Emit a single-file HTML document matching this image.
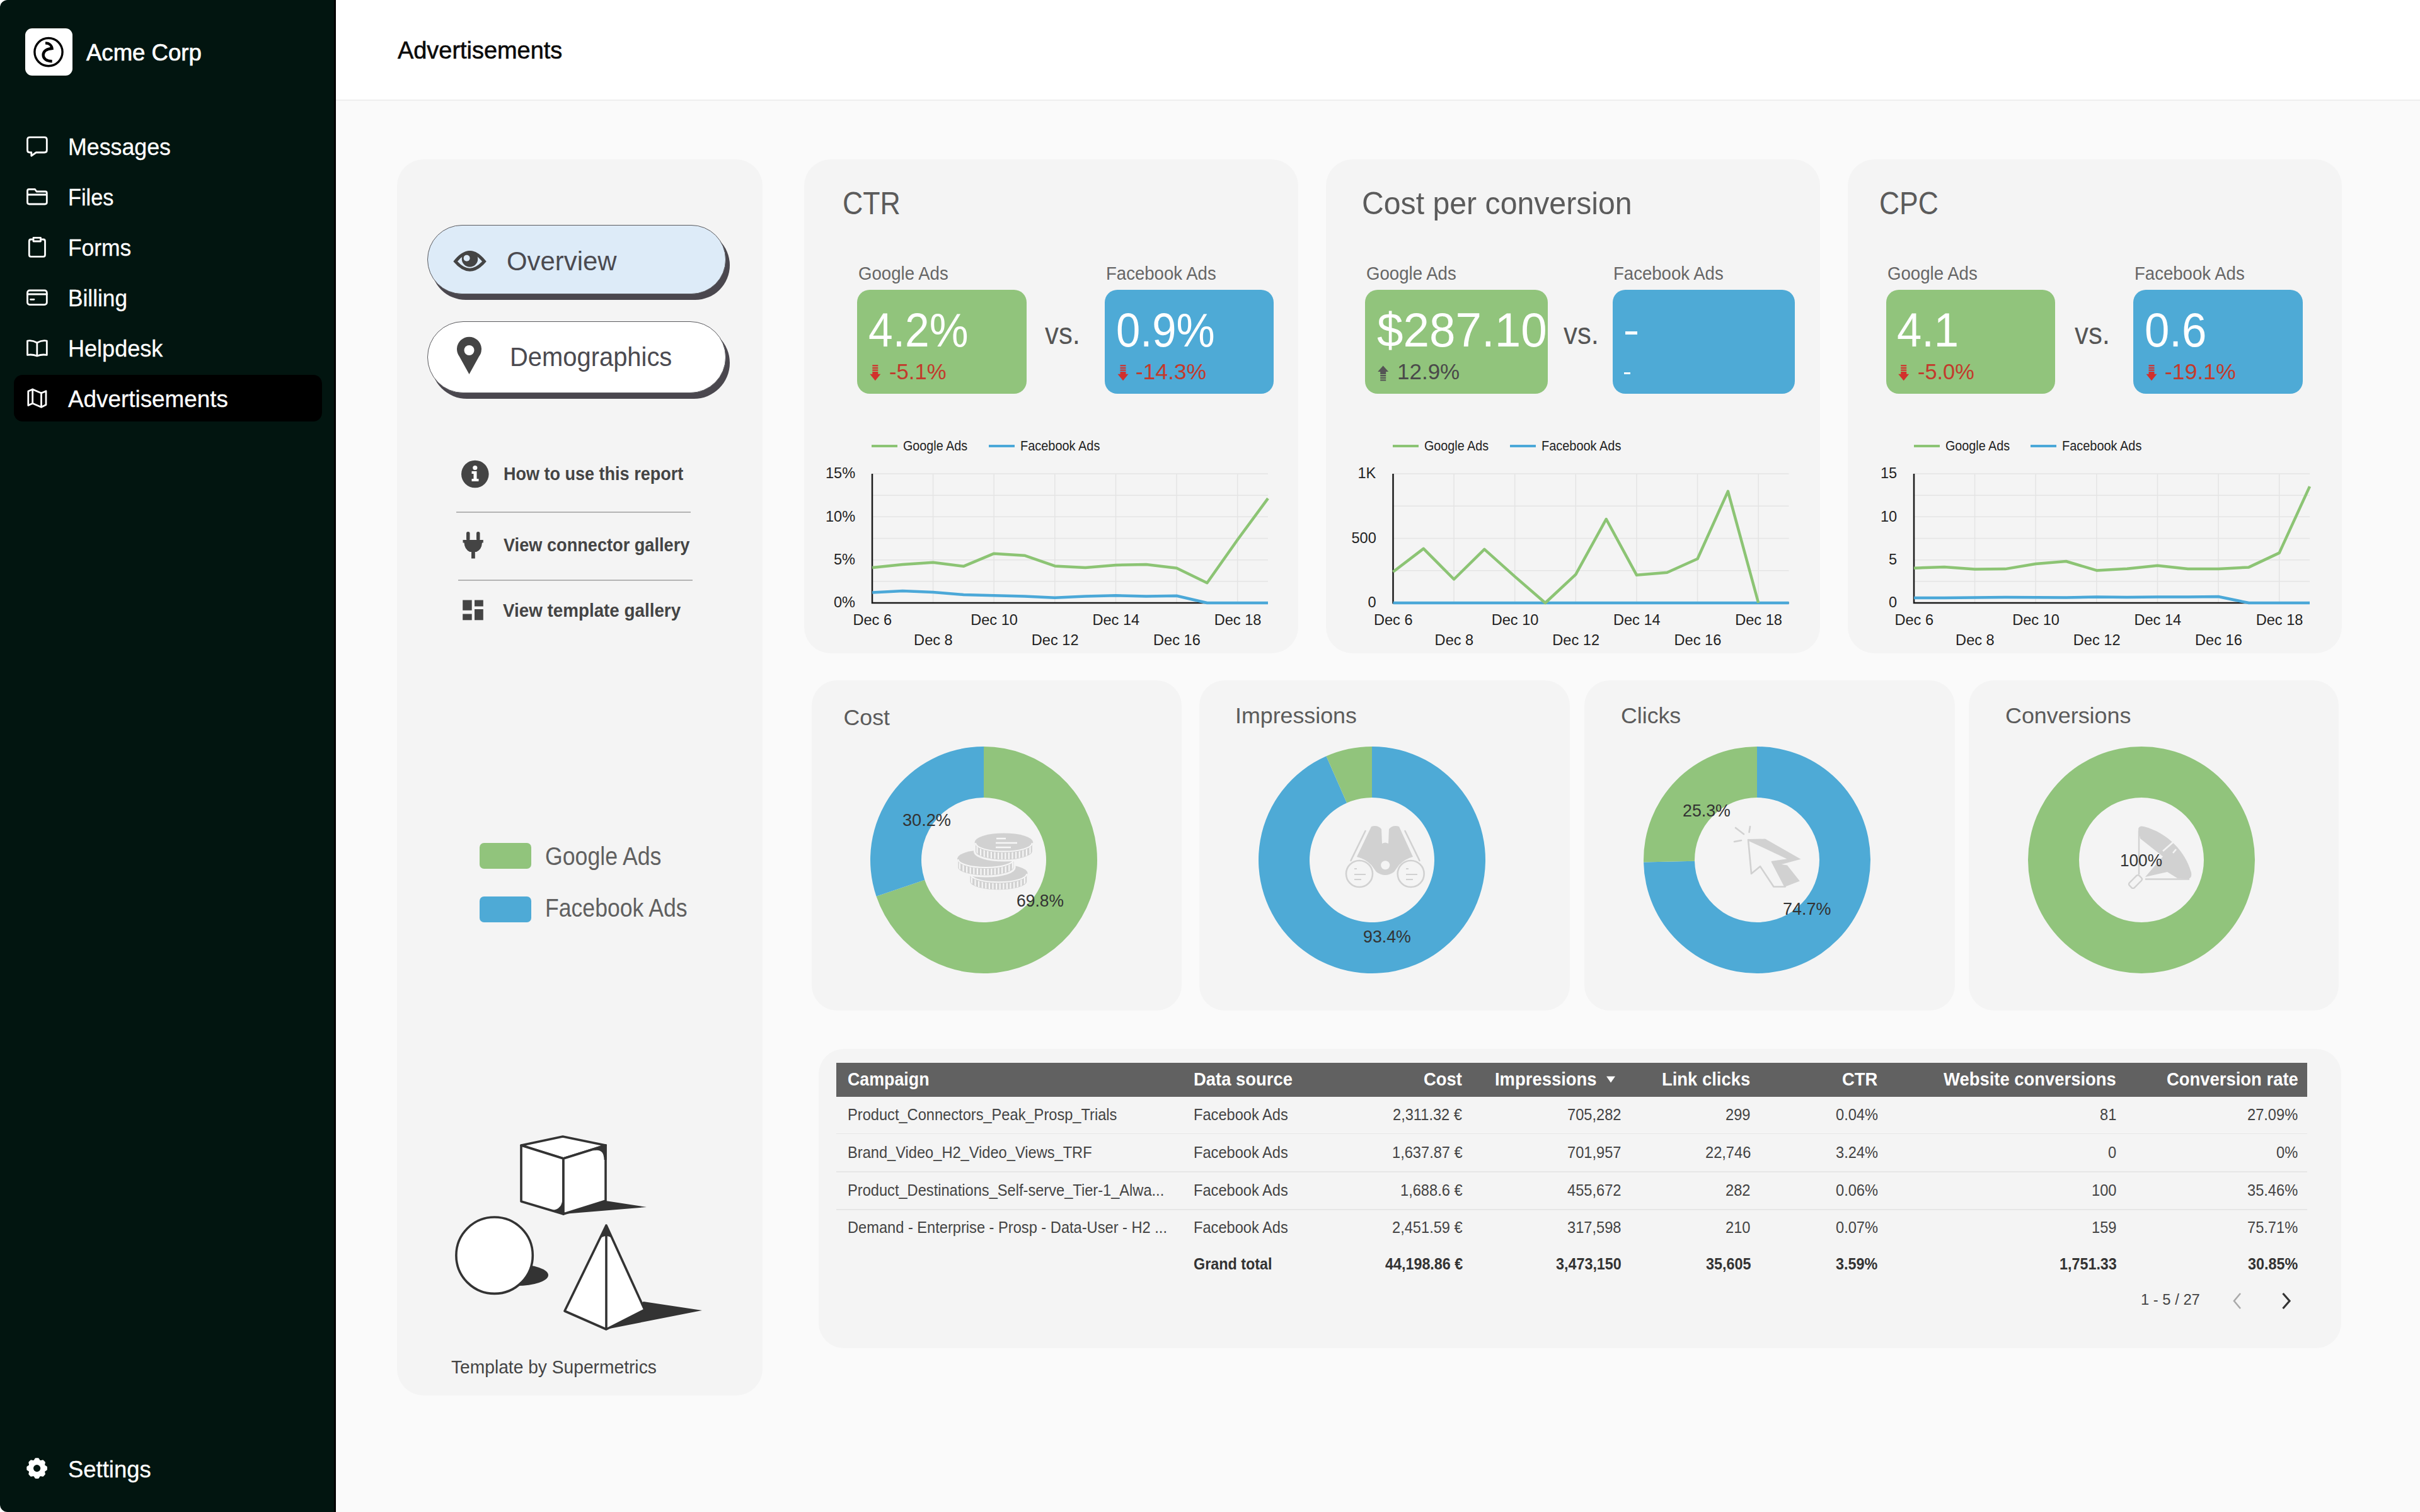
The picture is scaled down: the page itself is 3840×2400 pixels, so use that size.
<!DOCTYPE html>
<html><head><meta charset="utf-8"><title>Advertisements</title>
<style>
html,body{margin:0;padding:0;}
body{width:3840px;height:2400px;overflow:hidden;position:relative;background:#fafafa;font-family:"Liberation Sans",sans-serif;}
.t{position:absolute;white-space:nowrap;line-height:1;transform-origin:0 0;}
.r{position:absolute;}
svg.r{overflow:visible;}
</style></head><body>
<div class="r" style="left:0px;top:0px;width:533px;height:2400px;background:#fff;"></div>
<div class="r" style="left:533px;top:160px;width:3307px;height:2240px;background:#fafafa;"></div>
<div class="r" style="left:0px;top:0px;width:533px;height:2400px;background:#021510;border-radius:12px 0 0 12px;"></div>
<div class="r" style="left:530px;top:0px;width:3px;height:2400px;background:#000;"></div>
<div class="r" style="left:40px;top:45px;width:75px;height:75px;background:#fff;border-radius:11px;"></div>
<svg class="r" style="left:40px;top:45px" width="75" height="75" viewBox="0 0 75 75">
<circle cx="37" cy="37.6" r="22.1" fill="none" stroke="#000" stroke-width="3.4"/>
<path d="M32,23.4 C38.5,23.4 42.7,27.5 42.7,34" fill="none" stroke="#000" stroke-width="4.4"/>
<path d="M42.7,32 C34,32.3 28.6,36.5 28.6,42.3 C28.6,48.3 34,52.3 42.7,52.3" fill="none" stroke="#000" stroke-width="4.4"/>
</svg>
<div class="t" style="left:137.00px;top:65.06px;font-size:37.14px;color:#fff;transform:scaleX(0.9839);-webkit-text-stroke:0.7px #fff;">Acme Corp</div>
<div class="r" style="left:22px;top:595px;width:489px;height:74px;background:#000;border-radius:14px;"></div>
<div class="t" style="left:108.00px;top:214.56px;font-size:37.14px;color:#fff;transform:scaleX(0.9629);-webkit-text-stroke:0.3px #fff;">Messages</div>
<div class="t" style="left:108.00px;top:294.56px;font-size:37.14px;color:#fff;transform:scaleX(0.9241);-webkit-text-stroke:0.3px #fff;">Files</div>
<div class="t" style="left:108.00px;top:374.56px;font-size:37.14px;color:#fff;transform:scaleX(0.9528);-webkit-text-stroke:0.3px #fff;">Forms</div>
<div class="t" style="left:108.00px;top:454.56px;font-size:37.14px;color:#fff;transform:scaleX(0.9495);-webkit-text-stroke:0.3px #fff;">Billing</div>
<div class="t" style="left:108.00px;top:534.56px;font-size:37.14px;color:#fff;transform:scaleX(0.9712);-webkit-text-stroke:0.3px #fff;">Helpdesk</div>
<div class="t" style="left:108.00px;top:614.56px;font-size:37.14px;color:#fff;transform:scaleX(0.9922);-webkit-text-stroke:0.3px #fff;">Advertisements</div>
<div class="t" style="left:108.00px;top:2313.56px;font-size:37.14px;color:#fff;transform:scaleX(0.9815);-webkit-text-stroke:0.3px #fff;">Settings</div>
<svg class="r" style="left:0;top:0" width="100" height="700" viewBox="0 0 100 700">
<path d="M47.5,217.8 H70.5 Q74.3,217.8 74.3,221.6 V238.2 Q74.3,242 70.5,242 H57.3 L49.8,247.3 V242 H47.3 Q43.5,242 43.5,238.2 V221.6 Q43.5,217.8 47.5,217.8 Z" fill="none" stroke="#fff" stroke-width="2.8" stroke-linejoin="round" stroke-linecap="round"/>
<path d="M43.5,321 V303 Q43.5,300.5 46,300.5 H55.5 L58,304 H72 Q74.3,304 74.3,306.5 V321 Q74.3,324 71.3,324 H46.5 Q43.5,324 43.5,321 Z M43.5,309 H74.3" fill="none" stroke="#fff" stroke-width="2.8" stroke-linejoin="round" stroke-linecap="round"/>
<path d="M52.5,380 H49 Q46.3,380 46.3,383 V404.5 Q46.3,407.3 49,407.3 H68.8 Q71.5,407.3 71.5,404.5 V383 Q71.5,380 68.8,380 H65 M53,377.3 H64.5 V383 H53 Z" fill="none" stroke="#fff" stroke-width="2.8" stroke-linejoin="round" stroke-linecap="round"/>
<rect x="43.5" y="461" width="30.8" height="22.6" rx="3.5" fill="none" stroke="#fff" stroke-width="2.8" stroke-linejoin="round" stroke-linecap="round"/>
<path d="M43.5,467 H74.3 M48.5,475.3 H54" fill="none" stroke="#fff" stroke-width="2.8" stroke-linejoin="round" stroke-linecap="round"/>
<path d="M58.8,544 Q51,539.5 43.5,541 V563.5 Q51,562 58.8,565 Q66.5,562 74.3,563.5 V541 Q66.5,539.5 58.8,544 Z M58.8,544 V565" fill="none" stroke="#fff" stroke-width="2.8" stroke-linejoin="round" stroke-linecap="round"/>
<path d="M44.8,621 L51.7,618 L65.5,624 L73,620.8 V642.5 L65.5,646.3 L51.7,640.3 L44.8,643.5 Z M51.7,618 V640.3 M65.5,624 V646.3" fill="none" stroke="#fff" stroke-width="2.8" stroke-linejoin="round" stroke-linecap="round"/>
</svg>
<svg class="r" style="left:0;top:2280px" width="100" height="100" viewBox="0 2280 100 100">
<path d="M54.83,2319.00 L56.80,2315.91 L60.40,2315.91 L62.37,2319.00 L64.14,2319.73 L67.71,2318.94 L70.26,2321.49 L69.47,2325.06 L70.20,2326.83 L73.29,2328.80 L73.29,2332.40 L70.20,2334.37 L69.47,2336.14 L70.26,2339.71 L67.71,2342.26 L64.14,2341.47 L62.37,2342.20 L60.40,2345.29 L56.80,2345.29 L54.83,2342.20 L53.06,2341.47 L49.49,2342.26 L46.94,2339.71 L47.73,2336.14 L47.00,2334.37 L43.91,2332.40 L43.91,2328.80 L47.00,2326.83 L47.73,2325.06 L46.94,2321.49 L49.49,2318.94 L53.06,2319.73 Z" fill="#fff" stroke="#fff" stroke-width="3.2" stroke-linejoin="round"/>
<circle cx="58.6" cy="2330.6" r="5.6" fill="#021510"/>
</svg>
<div class="r" style="left:533px;top:0px;width:3307px;height:158px;background:#fff;"></div>
<div class="r" style="left:533px;top:158px;width:3307px;height:2px;background:#efefef;"></div>
<div class="t" style="left:630.50px;top:61.35px;font-size:38.57px;color:#0a0a0a;transform:scaleX(0.9830);-webkit-text-stroke:0.6px #0a0a0a;">Advertisements</div>
<div class="r" style="left:630px;top:253px;width:580px;height:1962px;background:#f4f4f4;border-radius:42px;"></div>
<div class="r" style="left:678px;top:357px;width:474px;height:110px;background:#ddebf8;border-radius:56px;border:1.5px solid #5a5a5e;box-sizing:border-box;box-shadow:6px 9px 0 #4a474e;"></div>
<div class="r" style="left:678px;top:510px;width:474px;height:114px;background:#ffffff;border-radius:57px;border:1.5px solid #5a5a5e;box-sizing:border-box;box-shadow:6px 9px 0 #4a474e;"></div>
<svg class="r" style="left:700px;top:380px" width="100" height="240" viewBox="700 380 100 240">
<path d="M719.3,415 Q745.5,381 771.8,415 Q745.5,446.4 719.3,415 Z M726,415 Q745.5,391 765,415 Q745.5,436.4 726,415 Z" fill="#444" fill-rule="evenodd"/>
<circle cx="745.5" cy="411" r="12.7" fill="#444"/>
<circle cx="740.6" cy="409.8" r="5" fill="#ddebf8"/>
<path d="M744.5,594 L729,566 A19.5,19.5 0 1 1 760,566 Z" fill="#444"/>
<circle cx="744.5" cy="556" r="8" fill="#fff"/>
</svg>
<div class="t" style="left:804.00px;top:392.72px;font-size:42.86px;color:#4b4a50;transform:scaleX(0.9777);">Overview</div>
<div class="t" style="left:809.00px;top:544.72px;font-size:42.86px;color:#4b4a50;transform:scaleX(0.9312);">Demographics</div>
<svg class="r" style="left:720px;top:720px" width="60" height="280" viewBox="720 720 60 280">
<circle cx="753.8" cy="752.5" r="21.8" fill="#444"/>
<circle cx="753.8" cy="742.5" r="3.6" fill="#fff"/>
<path d="M748.5,748 H756.5 V760 H759.5 V764 H748.5 V760 H751.5 V752 H748.5 Z" fill="#fff"/>
<rect x="740" y="844" width="5.5" height="14" rx="2.5" fill="#444"/>
<rect x="756" y="844" width="5.5" height="14" rx="2.5" fill="#444"/>
<path d="M734.5,857 H766.8 V861.5 H765 Q764.5,872 756,876 H753.8 V886.5 H748 V876 H745.5 Q737,872 736.5,861.5 H734.5 Z" fill="#444"/>
<rect x="734.2" y="952.5" width="14.5" height="16.3" fill="#444"/>
<rect x="734.2" y="974.5" width="14.5" height="9.8" fill="#444"/>
<rect x="753" y="952.5" width="13.8" height="10" fill="#444"/>
<rect x="753" y="967" width="13.8" height="17.3" fill="#444"/>
</svg>
<div class="t" style="left:799.00px;top:736.61px;font-size:30.00px;color:#444;font-weight:700;transform:scaleX(0.9006);">How to use this report</div>
<div class="r" style="left:724px;top:812px;width:372px;height:2px;background:#b4b4b4;"></div>
<div class="t" style="left:799.00px;top:849.61px;font-size:30.00px;color:#444;font-weight:700;transform:scaleX(0.9052);">View connector gallery</div>
<div class="r" style="left:727px;top:920px;width:372px;height:2px;background:#b4b4b4;"></div>
<div class="t" style="left:798.00px;top:953.61px;font-size:30.00px;color:#444;font-weight:700;transform:scaleX(0.9262);">View template gallery</div>
<div class="r" style="left:761px;top:1338px;width:82px;height:41px;background:#91c47c;border-radius:7px;"></div>
<div class="r" style="left:761px;top:1423px;width:82px;height:41px;background:#4eaad6;border-radius:7px;"></div>
<div class="t" style="left:865.00px;top:1338.64px;font-size:40.00px;color:#606060;transform:scaleX(0.8913);">Google Ads</div>
<div class="t" style="left:865.00px;top:1421.14px;font-size:40.00px;color:#606060;transform:scaleX(0.8898);">Facebook Ads</div>
<svg class="r" style="left:700px;top:1780px" width="440" height="350" viewBox="700 1780 440 350">
<path d="M961,1906 L1026,1916 L894,1927 Z" fill="#333"/>
<path d="M827,1818 L893,1804 L961,1818 L894,1839 Z" fill="#fff" stroke="#333" stroke-width="3.6" stroke-linejoin="round"/>
<path d="M827,1818 L894,1839 L894,1927 L827,1907 Z" fill="#fff" stroke="#333" stroke-width="3.6" stroke-linejoin="round"/>
<path d="M894,1839 L961,1818 L961,1906 L894,1927 Z" fill="#fff" stroke="#333" stroke-width="3.6" stroke-linejoin="round"/>
<path d="M941,1826.5 Q958.5,1822 958.5,1841 L962.5,1841 L962.5,1816 Z" fill="#333"/>
<path d="M892.5,1900 Q893,1920.5 875,1920.8 L895,1929 Z" fill="#333"/>
<ellipse cx="820" cy="2024" rx="50" ry="17" fill="#333"/>
<circle cx="784.6" cy="1992.7" r="60.7" fill="#fff" stroke="#333" stroke-width="3.6"/>
<path d="M1021,2066 L1114,2080 L962,2110 Z" fill="#333"/>
<path d="M962,1945 L896,2081 L962,2110 L1023,2079 Z" fill="#fff" stroke="#333" stroke-width="3.6" stroke-linejoin="round"/>
<path d="M962,1962 V2110" stroke="#333" stroke-width="3.6"/>
<path d="M962,1945 L952,1966 Q962,1958 972,1966 Z" fill="#333"/>
</svg>
<div class="t" style="left:716.00px;top:2154.61px;font-size:30.00px;color:#444;transform:scaleX(0.9395);">Template by Supermetrics</div>
<div class="r" style="left:1276px;top:253px;width:784px;height:784px;background:#f4f4f4;border-radius:42px;"></div>
<div class="t" style="left:1337.00px;top:297.68px;font-size:50.00px;color:#5b5b5b;transform:scaleX(0.8932);">CTR</div>
<div class="t" style="left:1361.50px;top:418.61px;font-size:30.00px;color:#666;transform:scaleX(0.9200);">Google Ads</div>
<div class="t" style="left:1754.50px;top:418.61px;font-size:30.00px;color:#666;transform:scaleX(0.9189);">Facebook Ads</div>
<div class="r" style="left:1360px;top:460px;width:269px;height:165px;background:#91c47c;border-radius:20px;"></div>
<div class="r" style="left:1753px;top:460px;width:268px;height:165px;background:#4eaad6;border-radius:20px;"></div>
<div class="t" style="left:1378.00px;top:485.78px;font-size:76.57px;color:#fff;transform:scaleX(0.9080);">4.2%</div>
<div class="t" style="left:1771.30px;top:485.78px;font-size:76.57px;color:#fff;transform:scaleX(0.8983);">0.9%</div>
<div class="t" style="left:1658.00px;top:504.94px;font-size:48.50px;color:#555;transform:scaleX(0.9032);">vs.</div>
<div class="t" style="left:1410.60px;top:572.77px;font-size:35.71px;color:#c23a2c;transform:scaleX(0.9720);">-5.1%</div>
<div class="t" style="left:1802.00px;top:572.77px;font-size:35.71px;color:#c23a2c;transform:scaleX(0.9912);">-14.3%</div>
<svg class="r" style="left:0;top:0" width="3840" height="700" viewBox="0 0 3840 700"><path d="M1384.3,579.3 h9 v2.3 h-9 Z M1384.3,582.9 h9 v2.3 h-9 Z M1384.3,586.5 h9 v2.3 h-9 Z M1384.3,590.0999999999999 h9 v3.7 h4 L1388.8,604.3 L1380.3,593.8 h4 Z" fill="#d2302c"/><path d="M1777.5,579.3 h9 v2.3 h-9 Z M1777.5,582.9 h9 v2.3 h-9 Z M1777.5,586.5 h9 v2.3 h-9 Z M1777.5,590.0999999999999 h9 v3.7 h4 L1782,604.3 L1773.5,593.8 h4 Z" fill="#d2302c"/></svg>
<div class="r" style="left:1383px;top:705.5px;width:41px;height:4.0px;background:#8cc474;"></div>
<div class="t" style="left:1433.00px;top:695.65px;font-size:22.86px;color:#222;transform:scaleX(0.8644);">Google Ads</div>
<div class="r" style="left:1569px;top:705.5px;width:41px;height:4.0px;background:#4ba8d8;"></div>
<div class="t" style="left:1619.00px;top:695.65px;font-size:22.86px;color:#222;transform:scaleX(0.8722);">Facebook Ads</div>
<svg class="r" style="left:0;top:0" width="3840" height="1100" viewBox="0 0 3840 1100"><path d="M1384,922.8 H2012 M1384,888.7 H2012 M1384,854.5 H2012 M1384,820.3 H2012 M1384,786.2 H2012 M1384,752.0 H2012 M1384.0,752 V957 M1480.6,752 V957 M1577.2,752 V957 M1673.8,752 V957 M1770.5,752 V957 M1867.1,752 V957 M1963.7,752 V957" stroke="#e4e4e4" stroke-width="1.5" fill="none"/><path d="M1384,752 V957 H2012" stroke="#1a1a1a" stroke-width="2.5" fill="none"/><polyline points="1384.0,940.6 1432.3,937.9 1480.6,939.9 1528.9,943.9 1577.2,945.2 1625.5,946.6 1673.8,948.7 1722.2,946.6 1770.5,945.2 1818.8,946.6 1867.1,945.7 1915.4,957.0 1963.7,957.0 2012.0,957.0" fill="none" stroke="#4ba8d8" stroke-width="4.5" stroke-linejoin="round"/><polyline points="1384.0,901.1 1432.3,896.0 1480.6,892.8 1528.9,898.8 1577.2,878.7 1625.5,881.7 1673.8,898.4 1722.2,901.1 1770.5,897.0 1818.8,896.0 1867.1,901.8 1915.4,925.2 1963.7,856.8 2012.0,791.2" fill="none" stroke="#8cc474" stroke-width="4.5" stroke-linejoin="round"/></svg>
<div class="t" style="left:1310.00px;top:740.35px;font-size:23.57px;color:#222;">15%</div>
<div class="t" style="left:1310.00px;top:808.68px;font-size:23.57px;color:#222;">10%</div>
<div class="t" style="left:1323.00px;top:877.01px;font-size:23.57px;color:#222;">5%</div>
<div class="t" style="left:1323.00px;top:945.35px;font-size:23.57px;color:#222;">0%</div>
<div class="t" style="left:1353.50px;top:973.05px;font-size:23.57px;color:#222;">Dec 6</div>
<div class="t" style="left:1450.12px;top:1004.75px;font-size:23.57px;color:#222;">Dec 8</div>
<div class="t" style="left:1540.23px;top:973.05px;font-size:23.57px;color:#222;">Dec 10</div>
<div class="t" style="left:1636.85px;top:1004.75px;font-size:23.57px;color:#222;">Dec 12</div>
<div class="t" style="left:1733.46px;top:973.05px;font-size:23.57px;color:#222;">Dec 14</div>
<div class="t" style="left:1830.08px;top:1004.75px;font-size:23.57px;color:#222;">Dec 16</div>
<div class="t" style="left:1926.69px;top:973.05px;font-size:23.57px;color:#222;">Dec 18</div>
<div class="r" style="left:2104px;top:253px;width:784px;height:784px;background:#f4f4f4;border-radius:42px;"></div>
<div class="t" style="left:2161.00px;top:297.68px;font-size:50.00px;color:#5b5b5b;transform:scaleX(0.9640);">Cost per conversion</div>
<div class="t" style="left:2167.50px;top:418.61px;font-size:30.00px;color:#666;transform:scaleX(0.9200);">Google Ads</div>
<div class="t" style="left:2560.00px;top:418.61px;font-size:30.00px;color:#666;transform:scaleX(0.9189);">Facebook Ads</div>
<div class="r" style="left:2166px;top:460px;width:289.5px;height:165px;background:#91c47c;border-radius:20px;"></div>
<div class="r" style="left:2558.5px;top:460px;width:289.5px;height:165px;background:#4eaad6;border-radius:20px;"></div>
<div class="t" style="left:2185.00px;top:485.78px;font-size:76.57px;color:#fff;transform:scaleX(0.9747);">$287.10</div>
<div class="t" style="left:2481.00px;top:504.94px;font-size:48.50px;color:#555;transform:scaleX(0.9032);">vs.</div>
<div class="t" style="left:2217.00px;top:572.77px;font-size:35.71px;color:#4a4a4a;transform:scaleX(0.9802);">12.9%</div>
<svg class="r" style="left:0;top:0" width="3840" height="700" viewBox="0 0 3840 700"><path d="M2194.7,580.5 L2203.2,590.0 h-4 v4 h-9 v-4 h-4 Z M2190.2,595.1 h9 v2.3 h-9 Z M2190.2,598.7 h9 v2.3 h-9 Z M2190.2,602.3 h9 v2.3 h-9 Z" fill="#555"/></svg>
<div class="r" style="left:2210px;top:705.5px;width:41px;height:4.0px;background:#8cc474;"></div>
<div class="t" style="left:2260.00px;top:695.65px;font-size:22.86px;color:#222;transform:scaleX(0.8644);">Google Ads</div>
<div class="r" style="left:2395.5px;top:705.5px;width:41.0px;height:4.0px;background:#4ba8d8;"></div>
<div class="t" style="left:2445.50px;top:695.65px;font-size:22.86px;color:#222;transform:scaleX(0.8722);">Facebook Ads</div>
<svg class="r" style="left:0;top:0" width="3840" height="1100" viewBox="0 0 3840 1100"><path d="M2210.5,905.8 H2838.5 M2210.5,854.5 H2838.5 M2210.5,803.2 H2838.5 M2210.5,752.0 H2838.5 M2210.5,752 V957 M2307.1,752 V957 M2403.7,752 V957 M2500.3,752 V957 M2597.0,752 V957 M2693.6,752 V957 M2790.2,752 V957" stroke="#e4e4e4" stroke-width="1.5" fill="none"/><path d="M2210.5,752 V957 H2838.5" stroke="#1a1a1a" stroke-width="2.5" fill="none"/><polyline points="2210.5,957.0 2258.8,957.0 2307.1,957.0 2355.4,957.0 2403.7,957.0 2452.0,957.0 2500.3,957.0 2548.7,957.0 2597.0,957.0 2645.3,957.0 2693.6,957.0 2741.9,957.0 2790.2,957.0 2838.5,957.0" fill="none" stroke="#4ba8d8" stroke-width="4.5" stroke-linejoin="round"/><polyline points="2210.5,907.8 2258.8,870.9 2307.1,919.5 2355.4,871.9 2403.7,915.1 2452.0,957.0 2500.3,911.8 2548.7,824.0 2597.0,912.8 2645.3,908.8 2693.6,887.0 2741.9,779.8 2790.2,957.0" fill="none" stroke="#8cc474" stroke-width="4.5" stroke-linejoin="round"/></svg>
<div class="t" style="left:2154.50px;top:740.35px;font-size:23.57px;color:#222;">1K</div>
<div class="t" style="left:2144.50px;top:842.85px;font-size:23.57px;color:#222;">500</div>
<div class="t" style="left:2170.50px;top:945.35px;font-size:23.57px;color:#222;">0</div>
<div class="t" style="left:2180.00px;top:973.05px;font-size:23.57px;color:#222;">Dec 6</div>
<div class="t" style="left:2276.62px;top:1004.75px;font-size:23.57px;color:#222;">Dec 8</div>
<div class="t" style="left:2366.73px;top:973.05px;font-size:23.57px;color:#222;">Dec 10</div>
<div class="t" style="left:2463.35px;top:1004.75px;font-size:23.57px;color:#222;">Dec 12</div>
<div class="t" style="left:2559.96px;top:973.05px;font-size:23.57px;color:#222;">Dec 14</div>
<div class="t" style="left:2656.58px;top:1004.75px;font-size:23.57px;color:#222;">Dec 16</div>
<div class="t" style="left:2753.19px;top:973.05px;font-size:23.57px;color:#222;">Dec 18</div>
<div class="r" style="left:2932px;top:253px;width:784px;height:784px;background:#f4f4f4;border-radius:42px;"></div>
<div class="t" style="left:2982.00px;top:297.68px;font-size:50.00px;color:#5b5b5b;transform:scaleX(0.8896);">CPC</div>
<div class="t" style="left:2994.50px;top:418.61px;font-size:30.00px;color:#666;transform:scaleX(0.9200);">Google Ads</div>
<div class="t" style="left:3386.50px;top:418.61px;font-size:30.00px;color:#666;transform:scaleX(0.9189);">Facebook Ads</div>
<div class="r" style="left:2993px;top:460px;width:268.4000000000001px;height:165px;background:#91c47c;border-radius:20px;"></div>
<div class="r" style="left:3385px;top:460px;width:268.5999999999999px;height:165px;background:#4eaad6;border-radius:20px;"></div>
<div class="t" style="left:3010.40px;top:485.78px;font-size:76.57px;color:#fff;transform:scaleX(0.9217);">4.1</div>
<div class="t" style="left:3402.60px;top:485.78px;font-size:76.57px;color:#fff;transform:scaleX(0.9245);">0.6</div>
<div class="t" style="left:3291.50px;top:504.94px;font-size:48.50px;color:#555;transform:scaleX(0.9032);">vs.</div>
<div class="t" style="left:3043.20px;top:572.77px;font-size:35.71px;color:#c23a2c;transform:scaleX(0.9613);">-5.0%</div>
<div class="t" style="left:3434.80px;top:572.77px;font-size:35.71px;color:#c23a2c;transform:scaleX(0.9973);">-19.1%</div>
<svg class="r" style="left:0;top:0" width="3840" height="700" viewBox="0 0 3840 700"><path d="M3016.2,579.3 h9 v2.3 h-9 Z M3016.2,582.9 h9 v2.3 h-9 Z M3016.2,586.5 h9 v2.3 h-9 Z M3016.2,590.0999999999999 h9 v3.7 h4 L3020.7,604.3 L3012.2,593.8 h4 Z" fill="#d2302c"/><path d="M3409.5,579.3 h9 v2.3 h-9 Z M3409.5,582.9 h9 v2.3 h-9 Z M3409.5,586.5 h9 v2.3 h-9 Z M3409.5,590.0999999999999 h9 v3.7 h4 L3414,604.3 L3405.5,593.8 h4 Z" fill="#d2302c"/></svg>
<div class="r" style="left:3036.5px;top:705.5px;width:41.0px;height:4.0px;background:#8cc474;"></div>
<div class="t" style="left:3086.50px;top:695.65px;font-size:22.86px;color:#222;transform:scaleX(0.8644);">Google Ads</div>
<div class="r" style="left:3222px;top:705.5px;width:41px;height:4.0px;background:#4ba8d8;"></div>
<div class="t" style="left:3272.00px;top:695.65px;font-size:22.86px;color:#222;transform:scaleX(0.8722);">Facebook Ads</div>
<svg class="r" style="left:0;top:0" width="3840" height="1100" viewBox="0 0 3840 1100"><path d="M3037,922.8 H3665 M3037,888.7 H3665 M3037,854.5 H3665 M3037,820.3 H3665 M3037,786.2 H3665 M3037,752.0 H3665 M3037.0,752 V957 M3133.6,752 V957 M3230.2,752 V957 M3326.8,752 V957 M3423.5,752 V957 M3520.1,752 V957 M3616.7,752 V957" stroke="#e4e4e4" stroke-width="1.5" fill="none"/><path d="M3037,752 V957 H3665" stroke="#1a1a1a" stroke-width="2.5" fill="none"/><polyline points="3037.0,949.0 3085.3,949.0 3133.6,948.6 3181.9,948.0 3230.2,948.3 3278.5,948.6 3326.8,947.6 3375.2,948.0 3423.5,947.6 3471.8,947.6 3520.1,947.0 3568.4,957.0 3616.7,957.0 3665.0,957.0" fill="none" stroke="#4ba8d8" stroke-width="4.5" stroke-linejoin="round"/><polyline points="3037.0,901.7 3085.3,900.1 3133.6,903.4 3181.9,903.1 3230.2,895.0 3278.5,891.0 3326.8,905.4 3375.2,902.7 3423.5,897.7 3471.8,903.1 3520.1,903.1 3568.4,900.4 3616.7,877.6 3665.0,772.1" fill="none" stroke="#8cc474" stroke-width="4.5" stroke-linejoin="round"/></svg>
<div class="t" style="left:2984.00px;top:740.35px;font-size:23.57px;color:#222;">15</div>
<div class="t" style="left:2984.00px;top:808.68px;font-size:23.57px;color:#222;">10</div>
<div class="t" style="left:2997.00px;top:877.01px;font-size:23.57px;color:#222;">5</div>
<div class="t" style="left:2997.00px;top:945.35px;font-size:23.57px;color:#222;">0</div>
<div class="t" style="left:3006.50px;top:973.05px;font-size:23.57px;color:#222;">Dec 6</div>
<div class="t" style="left:3103.12px;top:1004.75px;font-size:23.57px;color:#222;">Dec 8</div>
<div class="t" style="left:3193.23px;top:973.05px;font-size:23.57px;color:#222;">Dec 10</div>
<div class="t" style="left:3289.85px;top:1004.75px;font-size:23.57px;color:#222;">Dec 12</div>
<div class="t" style="left:3386.46px;top:973.05px;font-size:23.57px;color:#222;">Dec 14</div>
<div class="t" style="left:3483.08px;top:1004.75px;font-size:23.57px;color:#222;">Dec 16</div>
<div class="t" style="left:3579.69px;top:973.05px;font-size:23.57px;color:#222;">Dec 18</div>
<div class="r" style="left:2579px;top:526px;width:19px;height:5px;background:#fff;"></div>
<div class="r" style="left:2577px;top:591px;width:10px;height:3px;background:#fff;"></div>
<div class="r" style="left:1288px;top:1080px;width:586.5px;height:524px;background:#f4f4f4;border-radius:40px;"></div>
<div class="r" style="left:1903px;top:1080px;width:588px;height:524px;background:#f4f4f4;border-radius:40px;"></div>
<div class="r" style="left:2513.6px;top:1080px;width:588.2000000000003px;height:524px;background:#f4f4f4;border-radius:40px;"></div>
<div class="r" style="left:3123.6px;top:1080px;width:587.4000000000001px;height:524px;background:#f4f4f4;border-radius:40px;"></div>
<div class="t" style="left:1338.50px;top:1121.57px;font-size:35.71px;color:#5b5b5b;">Cost</div>
<div class="t" style="left:1959.60px;top:1119.37px;font-size:35.71px;color:#5b5b5b;transform:scaleX(1.0021);">Impressions</div>
<div class="t" style="left:2572.00px;top:1119.37px;font-size:35.71px;color:#5b5b5b;">Clicks</div>
<div class="t" style="left:3182.00px;top:1119.37px;font-size:35.71px;color:#5b5b5b;transform:scaleX(1.0050);">Conversions</div>
<svg class="r" style="left:1361px;top:1164.6px" width="400" height="400" viewBox="1361 1164.6 400 400"><path d="M1561.00,1184.60 A180,180 0 1 1 1390.52,1422.37 L1467.24,1396.37 A99,99 0 1 0 1561.00,1265.60 Z" fill="#91c47c"/><path d="M1390.52,1422.37 A180,180 0 0 1 1561.00,1184.60 L1561.00,1265.60 A99,99 0 0 0 1467.24,1396.37 Z" fill="#4eaad6"/></svg>
<svg class="r" style="left:1976.6999999999998px;top:1164.6px" width="400" height="400" viewBox="1976.6999999999998 1164.6 400 400"><path d="M2176.70,1184.60 A180,180 0 1 1 2104.18,1199.86 L2136.81,1273.99 A99,99 0 1 0 2176.70,1265.60 Z" fill="#4eaad6"/><path d="M2104.18,1199.86 A180,180 0 0 1 2176.70,1184.60 L2176.70,1265.60 A99,99 0 0 0 2136.81,1273.99 Z" fill="#91c47c"/></svg>
<svg class="r" style="left:2588px;top:1164.6px" width="400" height="400" viewBox="2588 1164.6 400 400"><path d="M2788.00,1184.60 A180,180 0 1 1 2608.03,1367.99 L2689.02,1366.47 A99,99 0 1 0 2788.00,1265.60 Z" fill="#4eaad6"/><path d="M2608.03,1367.99 A180,180 0 0 1 2788.00,1184.60 L2788.00,1265.60 A99,99 0 0 0 2689.02,1366.47 Z" fill="#91c47c"/></svg>
<svg class="r" style="left:3198px;top:1164.6px" width="400" height="400" viewBox="3198 1164.6 400 400"><path d="M3398,1184.6 A180,180 0 1 1 3398,1544.6 A180,180 0 1 1 3398,1184.6 Z M3398,1265.6 A99,99 0 1 0 3398,1463.6 A99,99 0 1 0 3398,1265.6 Z" fill="#91c47c" fill-rule="evenodd"/></svg>
<svg class="r" style="left:1480px;top:1280px" width="2040" height="160" viewBox="1480 1280 2040 160"><path d="M1537.8999999999999,1386 L1537.8999999999999,1399.5 A46.4,14.3 0 0 0 1630.7,1399.5 L1630.7,1386 A46.4,14.3 0 0 0 1537.8999999999999,1386 Z" fill="#d1d1d1" stroke="#f4f4f4" stroke-width="3"/><clipPath id="cp1"><path d="M1539.8999999999999,1389 A44.4,13.3 0 0 0 1628.7,1389 L1628.7,1398.5 A44.4,13.3 0 0 1 1539.8999999999999,1398.5 Z"/></clipPath><path d="M1541.9,1386 V1413.8 M1547.5,1386 V1413.8 M1553.1,1386 V1413.8 M1558.7,1386 V1413.8 M1564.3,1386 V1413.8 M1569.9,1386 V1413.8 M1575.5,1386 V1413.8 M1581.1,1386 V1413.8 M1586.7,1386 V1413.8 M1592.3,1386 V1413.8 M1597.9,1386 V1413.8 M1603.5,1386 V1413.8 M1609.1,1386 V1413.8 M1614.7,1386 V1413.8 M1620.3,1386 V1413.8 M1625.9,1386 V1413.8" stroke="#f7f7f7" stroke-width="2.2" clip-path="url(#cp1)"/><ellipse cx="1584.3" cy="1386" rx="46.4" ry="14.3" fill="#d1d1d1"/><path d="M1539.3999999999999,1387 A44.9,13.3 0 0 0 1629.2,1387" stroke="#f7f7f7" stroke-width="2" fill="none"/><path d="M1518.9,1363 L1518.9,1377 A45.6,14 0 0 0 1610.1,1377 L1610.1,1363 A45.6,14 0 0 0 1518.9,1363 Z" fill="#d1d1d1" stroke="#f4f4f4" stroke-width="3"/><clipPath id="cp2"><path d="M1520.9,1366 A43.6,13 0 0 0 1608.1,1366 L1608.1,1376 A43.6,13 0 0 1 1520.9,1376 Z"/></clipPath><path d="M1522.9,1363 V1391 M1528.5,1363 V1391 M1534.1,1363 V1391 M1539.7,1363 V1391 M1545.3,1363 V1391 M1550.9,1363 V1391 M1556.5,1363 V1391 M1562.1,1363 V1391 M1567.7,1363 V1391 M1573.3,1363 V1391 M1578.9,1363 V1391 M1584.5,1363 V1391 M1590.1,1363 V1391 M1595.7,1363 V1391 M1601.3,1363 V1391 M1606.9,1363 V1391" stroke="#f7f7f7" stroke-width="2.2" clip-path="url(#cp2)"/><ellipse cx="1564.5" cy="1363" rx="45.6" ry="14" fill="#d1d1d1"/><path d="M1520.4,1364 A44.1,13 0 0 0 1608.6,1364" stroke="#f7f7f7" stroke-width="2" fill="none"/><path d="M1546.5,1337 L1546.5,1351.5 A46.4,14.6 0 0 0 1639.3000000000002,1351.5 L1639.3000000000002,1337 A46.4,14.6 0 0 0 1546.5,1337 Z" fill="#d1d1d1" stroke="#f4f4f4" stroke-width="3"/><clipPath id="cp3"><path d="M1548.5,1340 A44.4,13.6 0 0 0 1637.3000000000002,1340 L1637.3000000000002,1350.5 A44.4,13.6 0 0 1 1548.5,1350.5 Z"/></clipPath><path d="M1550.5,1337 V1366.1 M1556.1,1337 V1366.1 M1561.7,1337 V1366.1 M1567.3,1337 V1366.1 M1572.9,1337 V1366.1 M1578.5,1337 V1366.1 M1584.1,1337 V1366.1 M1589.7,1337 V1366.1 M1595.3,1337 V1366.1 M1600.9,1337 V1366.1 M1606.5,1337 V1366.1 M1612.1,1337 V1366.1 M1617.7,1337 V1366.1 M1623.3,1337 V1366.1 M1628.9,1337 V1366.1 M1634.5,1337 V1366.1" stroke="#f7f7f7" stroke-width="2.2" clip-path="url(#cp3)"/><ellipse cx="1592.9" cy="1337" rx="46.4" ry="14.6" fill="#d1d1d1"/><path d="M1548.0,1338 A44.9,13.6 0 0 0 1637.8000000000002,1338" stroke="#f7f7f7" stroke-width="2" fill="none"/><path d="M1581,1331 H1596 M1580,1338 H1614 M1580,1345 H1604" stroke="#f7f7f7" stroke-width="2.6"/><path d="M2176,1312 Q2186,1309 2192,1316 L2193,1339 Q2198,1336 2203,1339 L2204,1316 Q2210,1309 2220,1312 L2242,1360 Q2230,1363 2220,1373 L2212,1384 Q2198,1394 2184,1384 L2176,1373 Q2166,1363 2153,1360 Z" fill="#d1d1d1"/>
<circle cx="2198.2" cy="1373.2" r="7" fill="#f4f4f4"/>
<path d="M2166.5,1319 L2143.5,1366 M2229.5,1319 L2252.5,1366" stroke="#d1d1d1" stroke-width="2.6" stroke-linecap="round"/>
<circle cx="2157" cy="1387" r="21" fill="#f4f4f4" stroke="#d1d1d1" stroke-width="2.6"/>
<circle cx="2238.7" cy="1387" r="21" fill="#f4f4f4" stroke="#d1d1d1" stroke-width="2.6"/>
<path d="M2149,1379 H2153 M2149,1388 H2167 M2149,1396 H2160 M2231,1379 H2235 M2231,1388 H2249 M2231,1396 H2242" stroke="#d1d1d1" stroke-width="2"/><path d="M2773,1332 L2801,1331.5 L2857.5,1363.7 L2826.8,1372 L2836,1373.6 L2855.8,1398.4 L2832.6,1407.5 L2812,1368 Z" fill="#d1d1d1"/>
<path d="M2774,1333 L2779,1386.8 L2793,1375.2 L2814.4,1407.5 L2832.6,1407.5 L2812,1368 L2840,1364 Z" fill="#f4f4f4" stroke="#d1d1d1" stroke-width="2.6" stroke-linejoin="round"/>
<path d="M2754,1314 L2767,1324 M2777,1312 L2775.5,1321 M2752,1336 L2763,1334" stroke="#d1d1d1" stroke-width="2.6" stroke-linecap="round"/><path d="M3393,1316 Q3394,1310 3402,1312 C3440,1322 3468,1352 3477,1385 Q3479,1396 3468,1395 L3455,1394 L3439,1384 L3404,1392 L3432,1359.5 L3396,1331 Z" fill="#d1d1d1"/>
<path d="M3432,1351 L3449,1336 M3448,1354 L3453,1348" stroke="#f4f4f4" stroke-width="2.6"/>
<path d="M3394,1318 V1388 M3404,1395.5 H3474" stroke="#d1d1d1" stroke-width="2.4" fill="none"/>
<rect x="-5.5" y="-11" width="11" height="22" rx="3" transform="translate(3388.5,1399.5) rotate(45)" fill="#f4f4f4" stroke="#d1d1d1" stroke-width="2.4"/></svg>
<div class="t" style="left:1432.00px;top:1287.72px;font-size:27.14px;color:#333;">30.2%</div>
<div class="t" style="left:1612.60px;top:1415.52px;font-size:27.14px;color:#333;transform:scaleX(0.9740);">69.8%</div>
<div class="t" style="left:2163.00px;top:1473.02px;font-size:27.14px;color:#333;transform:scaleX(0.9870);">93.4%</div>
<div class="t" style="left:2669.60px;top:1273.02px;font-size:27.14px;color:#333;transform:scaleX(0.9870);">25.3%</div>
<div class="t" style="left:2829.00px;top:1429.02px;font-size:27.14px;color:#333;transform:scaleX(0.9935);">74.7%</div>
<div class="t" style="left:3364.00px;top:1351.82px;font-size:27.14px;color:#333;transform:scaleX(0.9643);">100%</div>
<div class="r" style="left:1299px;top:1665px;width:2416px;height:475px;background:#f4f4f4;border-radius:40px;"></div>
<div class="r" style="left:1327px;top:1687px;width:2334px;height:53.5px;background:#616161;"></div>
<div class="t" style="left:1344.50px;top:1699.06px;font-size:28.57px;color:#fff;font-weight:700;transform:scaleX(0.9384);">Campaign</div>
<div class="t" style="left:1894.00px;top:1699.06px;font-size:28.57px;color:#fff;font-weight:700;transform:scaleX(0.9600);">Data source</div>
<div class="t" style="left:2258.56px;top:1699.06px;font-size:28.57px;color:#fff;font-weight:700;transform:scaleX(0.9600);">Cost</div>
<div class="t" style="left:2371.72px;top:1699.06px;font-size:28.57px;color:#fff;font-weight:700;transform:scaleX(0.9600);">Impressions</div>
<svg class="r" style="left:2540px;top:1700px" width="30" height="30" viewBox="2540 1700 30 30"><path d="M2549,1708.5 h14 l-7,10 Z" fill="#fff"/></svg>
<div class="t" style="left:2637.44px;top:1699.06px;font-size:28.57px;color:#fff;font-weight:700;transform:scaleX(0.9600);">Link clicks</div>
<div class="t" style="left:2923.06px;top:1699.06px;font-size:28.57px;color:#fff;font-weight:700;transform:scaleX(0.9600);">CTR</div>
<div class="t" style="left:3084.40px;top:1699.06px;font-size:28.57px;color:#fff;font-weight:700;transform:scaleX(0.9600);">Website conversions</div>
<div class="t" style="left:3437.68px;top:1699.06px;font-size:28.57px;color:#fff;font-weight:700;transform:scaleX(0.9600);">Conversion rate</div>
<div class="r" style="left:1327px;top:1798.75px;width:2334px;height:1.5px;background:#e6e6e6;"></div>
<div class="r" style="left:1327px;top:1859.25px;width:2334px;height:1.5px;background:#e6e6e6;"></div>
<div class="r" style="left:1327px;top:1919.25px;width:2334px;height:1.5px;background:#e6e6e6;"></div>
<div class="t" style="left:1344.50px;top:1757.29px;font-size:25.36px;color:#444;transform:scaleX(0.9320);">Product_Connectors_Peak_Prosp_Trials</div>
<div class="t" style="left:1894.00px;top:1757.29px;font-size:25.36px;color:#444;transform:scaleX(0.9320);">Facebook Ads</div>
<div class="t" style="left:2210.02px;top:1757.29px;font-size:25.36px;color:#444;transform:scaleX(0.9320);">2,311.32 €</div>
<div class="t" style="left:2486.79px;top:1757.29px;font-size:25.36px;color:#444;transform:scaleX(0.9320);">705,282</div>
<div class="t" style="left:2738.46px;top:1757.29px;font-size:25.36px;color:#444;transform:scaleX(0.9320);">299</div>
<div class="t" style="left:2912.60px;top:1757.29px;font-size:25.36px;color:#444;transform:scaleX(0.9320);">0.04%</div>
<div class="t" style="left:3331.90px;top:1757.29px;font-size:25.36px;color:#444;transform:scaleX(0.9320);">81</div>
<div class="t" style="left:3565.85px;top:1757.29px;font-size:25.36px;color:#444;transform:scaleX(0.9320);">27.09%</div>
<div class="t" style="left:1344.50px;top:1817.29px;font-size:25.36px;color:#444;transform:scaleX(0.9320);">Brand_Video_H2_Video_Views_TRF</div>
<div class="t" style="left:1894.00px;top:1817.29px;font-size:25.36px;color:#444;transform:scaleX(0.9320);">Facebook Ads</div>
<div class="t" style="left:2209.09px;top:1817.29px;font-size:25.36px;color:#444;transform:scaleX(0.9320);">1,637.87 €</div>
<div class="t" style="left:2486.79px;top:1817.29px;font-size:25.36px;color:#444;transform:scaleX(0.9320);">701,957</div>
<div class="t" style="left:2705.84px;top:1817.29px;font-size:25.36px;color:#444;transform:scaleX(0.9320);">22,746</div>
<div class="t" style="left:2912.60px;top:1817.29px;font-size:25.36px;color:#444;transform:scaleX(0.9320);">3.24%</div>
<div class="t" style="left:3344.95px;top:1817.29px;font-size:25.36px;color:#444;transform:scaleX(0.9320);">0</div>
<div class="t" style="left:3611.52px;top:1817.29px;font-size:25.36px;color:#444;transform:scaleX(0.9320);">0%</div>
<div class="t" style="left:1344.50px;top:1876.54px;font-size:25.36px;color:#444;transform:scaleX(0.9320);">Product_Destinations_Self-serve_Tier-1_Alwa...</div>
<div class="t" style="left:1894.00px;top:1876.54px;font-size:25.36px;color:#444;transform:scaleX(0.9320);">Facebook Ads</div>
<div class="t" style="left:2222.14px;top:1876.54px;font-size:25.36px;color:#444;transform:scaleX(0.9320);">1,688.6 €</div>
<div class="t" style="left:2486.79px;top:1876.54px;font-size:25.36px;color:#444;transform:scaleX(0.9320);">455,672</div>
<div class="t" style="left:2738.46px;top:1876.54px;font-size:25.36px;color:#444;transform:scaleX(0.9320);">282</div>
<div class="t" style="left:2912.60px;top:1876.54px;font-size:25.36px;color:#444;transform:scaleX(0.9320);">0.06%</div>
<div class="t" style="left:3318.86px;top:1876.54px;font-size:25.36px;color:#444;transform:scaleX(0.9320);">100</div>
<div class="t" style="left:3565.85px;top:1876.54px;font-size:25.36px;color:#444;transform:scaleX(0.9320);">35.46%</div>
<div class="t" style="left:1344.50px;top:1936.04px;font-size:25.36px;color:#444;transform:scaleX(0.9320);">Demand - Enterprise - Prosp - Data-User - H2 ...</div>
<div class="t" style="left:1894.00px;top:1936.04px;font-size:25.36px;color:#444;transform:scaleX(0.9320);">Facebook Ads</div>
<div class="t" style="left:2209.09px;top:1936.04px;font-size:25.36px;color:#444;transform:scaleX(0.9320);">2,451.59 €</div>
<div class="t" style="left:2486.79px;top:1936.04px;font-size:25.36px;color:#444;transform:scaleX(0.9320);">317,598</div>
<div class="t" style="left:2738.46px;top:1936.04px;font-size:25.36px;color:#444;transform:scaleX(0.9320);">210</div>
<div class="t" style="left:2912.60px;top:1936.04px;font-size:25.36px;color:#444;transform:scaleX(0.9320);">0.07%</div>
<div class="t" style="left:3318.86px;top:1936.04px;font-size:25.36px;color:#444;transform:scaleX(0.9320);">159</div>
<div class="t" style="left:3565.85px;top:1936.04px;font-size:25.36px;color:#444;transform:scaleX(0.9320);">75.71%</div>
<div class="t" style="left:1894.00px;top:1993.54px;font-size:25.36px;color:#333;font-weight:700;transform:scaleX(0.9200);">Grand total</div>
<div class="t" style="left:2197.64px;top:1993.54px;font-size:25.36px;color:#333;font-weight:700;transform:scaleX(0.9200);">44,198.86 €</div>
<div class="t" style="left:2468.56px;top:1993.54px;font-size:25.36px;color:#333;font-weight:700;transform:scaleX(0.9200);">3,473,150</div>
<div class="t" style="left:2706.76px;top:1993.54px;font-size:25.36px;color:#333;font-weight:700;transform:scaleX(0.9200);">35,605</div>
<div class="t" style="left:2913.46px;top:1993.54px;font-size:25.36px;color:#333;font-weight:700;transform:scaleX(0.9200);">3.59%</div>
<div class="t" style="left:3267.84px;top:1993.54px;font-size:25.36px;color:#333;font-weight:700;transform:scaleX(0.9200);">1,751.33</div>
<div class="t" style="left:3566.88px;top:1993.54px;font-size:25.36px;color:#333;font-weight:700;transform:scaleX(0.9200);">30.85%</div>
<div class="t" style="left:3396.70px;top:2050.94px;font-size:24.29px;color:#444;transform:scaleX(0.9792);">1 - 5 / 27</div>
<svg class="r" style="left:3530px;top:2040px" width="120" height="60" viewBox="3530 2040 120 60"><path d="M3555,2053 L3545,2065 L3555,2077" stroke="#aaa" stroke-width="2.6" fill="none"/><path d="M3622.5,2053 L3633,2065 L3622.5,2077" stroke="#333" stroke-width="3.2" fill="none"/></svg>

</body></html>
